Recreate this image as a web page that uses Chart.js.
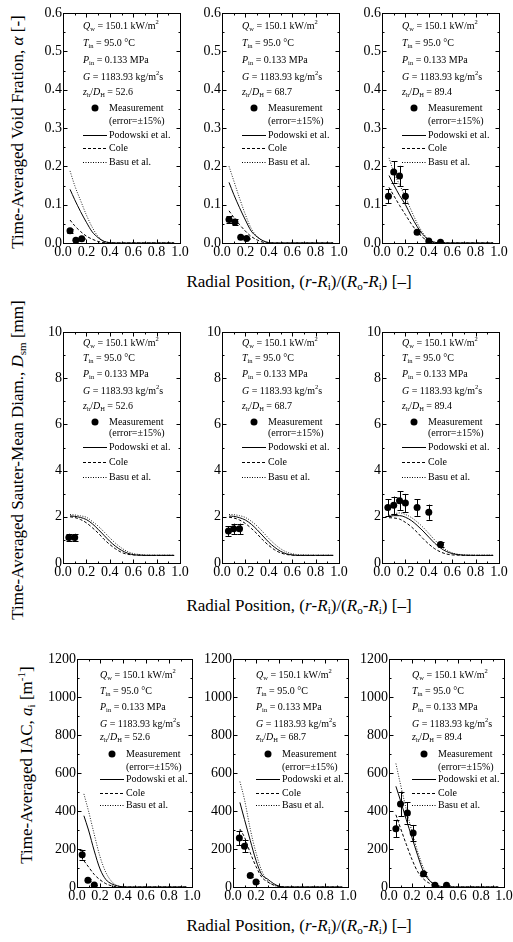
<!DOCTYPE html>
<html><head><meta charset="utf-8">
<script src="https://cdn.jsdelivr.net/npm/chart.js@4.4.1/dist/chart.umd.min.js"></script>
<style>
html,body{margin:0;padding:0;background:#fff;}
body{width:513px;height:942px;position:relative;overflow:hidden;font-family:"Liberation Serif","Times New Roman",serif;color:#000;}
canvas{position:absolute;}
.t{position:absolute;white-space:nowrap;font-size:17px;line-height:1;transform:translate(-50%,-50%);}
.r{transform:translate(-50%,-50%) rotate(-90deg);}
.t sub,.t sup{font-size:0.65em;line-height:0;}
.t sub{vertical-align:-0.3em;}
.t sup{vertical-align:0.6em;}
</style></head><body>
<div class="t r" style="left:17px;top:132px">Time-Averaged Void Fration, <i>α</i> [-]</div>
<div class="t r" style="left:17px;top:460px">Time-Averaged Sauter-Mean Diam., <i>D</i><sub>sm</sub> [mm]</div>
<div class="t r" style="left:26px;top:765px">Time-Averaged IAC, <i>a</i><sub>i</sub> [m<sup>-1</sup>]</div>
<div class="t" style="left:299px;top:281px">Radial Position, (<i>r</i>-<i>R</i><sub>i</sub>)/(<i>R</i><sub>o</sub>-<i>R</i><sub>i</sub>) [–]</div>
<div class="t" style="left:299px;top:605px">Radial Position, (<i>r</i>-<i>R</i><sub>i</sub>)/(<i>R</i><sub>o</sub>-<i>R</i><sub>i</sub>) [–]</div>
<div class="t" style="left:299px;top:925px">Radial Position, (<i>r</i>-<i>R</i><sub>i</sub>)/(<i>R</i><sub>o</sub>-<i>R</i><sub>i</sub>) [–]</div>
<script>
// ---------------- DATA ----------------
const X_TICKS = [0, 0.2, 0.4, 0.6, 0.8, 1.0];
const Y_TICKS_VF = [0, 0.1, 0.2, 0.3, 0.4, 0.5, 0.6];
const Y_TICKS_DSM = [0, 2, 4, 6, 8, 10];
const Y_TICKS_IAC = [0, 200, 400, 600, 800, 1000, 1200];
const Z_LABELS = ['52.6', '68.7', '89.4'];
const ERR = 0.15; // measurement error (±15%) as stated in legend

const CURVE_X = [0.06, 0.1, 0.15, 0.2, 0.25, 0.3, 0.35, 0.4, 0.45, 0.5, 0.55, 0.6, 0.65, 0.7, 0.8, 0.95];

// Void fraction
const VF_MX_526 = [0.06, 0.11, 0.16];
const VF_MY_526 = [0.032, 0.007, 0.011];
const VF_POD_526 = [0.14, 0.113, 0.082, 0.054, 0.029, 0.014, 0.004, 0.001, 0, 0, 0, 0, 0, 0, 0, 0];
const VF_COLE_526 = [0.06, 0.045, 0.03, 0.018, 0.01, 0.004, 0.001, 0, 0, 0, 0, 0, 0, 0, 0, 0];
const VF_BASU_526 = [0.188, 0.15, 0.111, 0.073, 0.041, 0.017, 0.005, 0.001, 0, 0, 0, 0, 0, 0, 0, 0];

const VF_MX_687 = [0.06, 0.11, 0.16, 0.21];
const VF_MY_687 = [0.061, 0.055, 0.015, 0.012];
const VF_POD_687 = [0.158, 0.127, 0.092, 0.06, 0.031, 0.016, 0.006, 0.001, 0, 0, 0, 0, 0, 0, 0, 0];
const VF_COLE_687 = [0.084, 0.067, 0.048, 0.031, 0.017, 0.008, 0.002, 0, 0, 0, 0, 0, 0, 0, 0, 0];
const VF_BASU_687 = [0.2, 0.163, 0.117, 0.074, 0.038, 0.017, 0.005, 0.001, 0, 0, 0, 0, 0, 0, 0, 0];

const VF_MX_894 = [0.055, 0.1, 0.15, 0.2, 0.3, 0.4, 0.5];
const VF_MY_894 = [0.122, 0.185, 0.175, 0.122, 0.028, 0.005, 0.002];
const VF_POD_894 = [0.176, 0.152, 0.124, 0.1, 0.07, 0.043, 0.022, 0.008, 0.002, 0, 0, 0, 0, 0, 0, 0];
const VF_COLE_894 = [0.145, 0.124, 0.098, 0.074, 0.05, 0.03, 0.014, 0.005, 0.001, 0, 0, 0, 0, 0, 0, 0];
const VF_BASU_894 = [0.222, 0.185, 0.152, 0.12, 0.085, 0.052, 0.026, 0.009, 0.002, 0, 0, 0, 0, 0, 0, 0];

// Sauter mean diameter
const DSM_MX_526 = [0.05, 0.1];
const DSM_MY_526 = [1.1, 1.1];
const DSM_POD_526 = [2.04, 2.02, 1.97, 1.88, 1.7, 1.46, 1.2, 0.94, 0.72, 0.55, 0.43, 0.36, 0.34, 0.33, 0.33, 0.33];
const DSM_COLE_526 = [2.0, 1.97, 1.88, 1.74, 1.53, 1.3, 1.03, 0.8, 0.61, 0.46, 0.38, 0.35, 0.34, 0.33, 0.33, 0.33];
const DSM_BASU_526 = [2.1, 2.08, 2.04, 1.98, 1.8, 1.6, 1.35, 1.09, 0.85, 0.65, 0.5, 0.41, 0.37, 0.35, 0.34, 0.34];

const DSM_MX_687 = [0.055, 0.1, 0.15];
const DSM_MY_687 = [1.38, 1.48, 1.48];
const DSM_POD_687 = [2.03, 2.02, 1.96, 1.86, 1.68, 1.44, 1.17, 0.9, 0.68, 0.51, 0.4, 0.35, 0.33, 0.33, 0.33, 0.33];
const DSM_COLE_687 = [1.98, 1.95, 1.86, 1.71, 1.5, 1.26, 0.99, 0.76, 0.57, 0.44, 0.37, 0.34, 0.33, 0.33, 0.33, 0.33];
const DSM_BASU_687 = [2.1, 2.09, 2.05, 1.97, 1.81, 1.6, 1.34, 1.06, 0.82, 0.62, 0.48, 0.4, 0.36, 0.35, 0.34, 0.34];

const DSM_MX_894 = [0.05, 0.1, 0.15, 0.2, 0.3, 0.4, 0.5];
const DSM_MY_894 = [2.4, 2.5, 2.7, 2.6, 2.4, 2.2, 0.8];
const DSM_POD_894 = [2.02, 2.05, 2.05, 1.98, 1.84, 1.63, 1.39, 1.12, 0.86, 0.65, 0.5, 0.41, 0.36, 0.34, 0.33, 0.33];
const DSM_COLE_894 = [1.96, 1.95, 1.9, 1.76, 1.57, 1.33, 1.06, 0.82, 0.62, 0.48, 0.39, 0.35, 0.34, 0.33, 0.33, 0.33];
const DSM_BASU_894 = [2.06, 2.12, 2.17, 2.1, 1.97, 1.78, 1.55, 1.28, 1.0, 0.76, 0.56, 0.44, 0.38, 0.35, 0.34, 0.34];

// Interfacial area concentration
const IAC_MX_526 = [0.045, 0.095, 0.15];
const IAC_MY_526 = [170, 35, 10];
const IAC_POD_526 = [375, 300, 190, 95, 40, 17, 6, 1, 0, 0, 0, 0, 0, 0, 0, 0];
const IAC_COLE_526 = [138, 106, 66, 38, 18, 6, 1, 0, 0, 0, 0, 0, 0, 0, 0, 0];
const IAC_BASU_526 = [490, 400, 277, 160, 78, 30, 7, 1, 0, 0, 0, 0, 0, 0, 0, 0];

const IAC_MX_687 = [0.055, 0.1, 0.15, 0.2];
const IAC_MY_687 = [258, 214, 60, 26];
const IAC_POD_687 = [445, 355, 245, 140, 65, 42, 19, 4, 0, 0, 0, 0, 0, 0, 0, 0];
const IAC_COLE_687 = [305, 262, 180, 108, 52, 27, 11, 4, 0, 0, 0, 0, 0, 0, 0, 0];
const IAC_BASU_687 = [555, 460, 305, 180, 85, 33, 11, 2, 0, 0, 0, 0, 0, 0, 0, 0];

const IAC_MX_894 = [0.06, 0.1, 0.16, 0.21, 0.3, 0.4, 0.5];
const IAC_MY_894 = [307, 437, 389, 284, 70, 9, 9];
const IAC_POD_894 = [530, 455, 355, 260, 165, 80, 35, 13, 3, 0, 0, 0, 0, 0, 0, 0];
const IAC_COLE_894 = [380, 310, 225, 145, 80, 42, 20, 7, 1, 0, 0, 0, 0, 0, 0, 0];
const IAC_BASU_894 = [650, 540, 410, 290, 185, 100, 40, 12, 2, 0, 0, 0, 0, 0, 0, 0];

// ---------------- LAYOUT ----------------
const FONT = "'Liberation Serif', serif";
const TICK_FS = 14;
Chart.defaults.font.family = FONT;
Chart.defaults.font.size = TICK_FS;
Chart.defaults.color = '#000';
const LW = 40, PT = 10, PR = 12, BH = 20;

const ROWS = [
  { top: 13, h: 230, lefts: [63, 222, 382], w: 117, ymax: 0.6, yticks: Y_TICKS_VF, fmt: v => v.toFixed(1),
    dys: [13, 30, 47, 64, 79, 95, 108, 122, 135, 149], tx: 20,
    panels: [
      [VF_MX_526, VF_MY_526, VF_POD_526, VF_COLE_526, VF_BASU_526],
      [VF_MX_687, VF_MY_687, VF_POD_687, VF_COLE_687, VF_BASU_687],
      [VF_MX_894, VF_MY_894, VF_POD_894, VF_COLE_894, VF_BASU_894]] },
  { top: 332, h: 231, lefts: [63, 222, 382], w: 117, ymax: 10, yticks: Y_TICKS_DSM, fmt: v => String(v),
    dys: [11, 26, 42, 59, 74, 90, 101, 115, 130, 145], tx: 20,
    panels: [
      [DSM_MX_526, DSM_MY_526, DSM_POD_526, DSM_COLE_526, DSM_BASU_526],
      [DSM_MX_687, DSM_MY_687, DSM_POD_687, DSM_COLE_687, DSM_BASU_687],
      [DSM_MX_894, DSM_MY_894, DSM_POD_894, DSM_COLE_894, DSM_BASU_894]] },
  { top: 659, h: 228, lefts: [77, 233, 389], w: 115, ymax: 1200, yticks: Y_TICKS_IAC, fmt: v => String(v),
    dys: [16, 32, 48, 65, 78, 95, 108, 120, 134, 146], tx: 23,
    panels: [
      [IAC_MX_526, IAC_MY_526, IAC_POD_526, IAC_COLE_526, IAC_BASU_526],
      [IAC_MX_687, IAC_MY_687, IAC_POD_687, IAC_COLE_687, IAC_BASU_687],
      [IAC_MX_894, IAC_MY_894, IAC_POD_894, IAC_COLE_894, IAC_BASU_894]] }
];

const DASH_COLE = [3, 2];
const DASH_BASU = [1, 1.5];

function pts(xs, ys) { return xs.map((x, i) => ({ x: x, y: ys[i] })); }

function rich(ctx, x, y, segs, fs) {
  let cx = x;
  for (const [t, s] of segs) {
    const small = s.includes('b') || s.includes('p');
    const size = small ? fs * 0.65 : fs;
    ctx.font = (s.includes('i') ? 'italic ' : '') + size + 'px ' + FONT;
    const dy = s.includes('b') ? fs * 0.32 : (s.includes('p') ? -fs * 0.35 : 0);
    ctx.fillText(t, cx, y + dy);
    cx += ctx.measureText(t).width;
  }
  return cx;
}

const panelPlugin = {
  id: 'panelDeco',
  afterDatasetsDraw(chart) {
    const ctx = chart.ctx, ys = chart.scales.y;
    const meta = chart.getDatasetMeta(0);
    const data = chart.data.datasets[0].data;
    ctx.save();
    ctx.strokeStyle = '#000'; ctx.lineWidth = 1;
    ctx.beginPath();
    meta.data.forEach((el, i) => {
      const v = data[i].y;
      const y1 = ys.getPixelForValue(v * (1 + ERR));
      const y2 = ys.getPixelForValue(v * (1 - ERR));
      const x = Math.round(el.x) + 0.5;
      ctx.moveTo(x, y1); ctx.lineTo(x, y2);
      ctx.moveTo(x - 3, Math.round(y1) + 0.5); ctx.lineTo(x + 3, Math.round(y1) + 0.5);
      ctx.moveTo(x - 3, Math.round(y2) + 0.5); ctx.lineTo(x + 3, Math.round(y2) + 0.5);
    });
    ctx.stroke();
    ctx.restore();
  },
  afterDraw(chart, args, opts) {
    const ctx = chart.ctx, a = chart.chartArea, xs = chart.scales.x, ys = chart.scales.y;
    ctx.save();
    ctx.strokeStyle = '#000'; ctx.lineWidth = 1;
    const L = Math.round(a.left) + 0.5, R = Math.round(a.right) + 0.5;
    const T = Math.round(a.top) + 0.5, B = Math.round(a.bottom) + 0.5;
    ctx.strokeRect(L, T, R - L, B - T);
    ctx.beginPath();
    for (let i = 0; i < X_TICKS.length; i++) {
      const px = Math.round(xs.getPixelForValue(X_TICKS[i])) + 0.5;
      ctx.moveTo(px, B); ctx.lineTo(px, B - 4);
      ctx.moveTo(px, T); ctx.lineTo(px, T + 4);
      if (i < X_TICKS.length - 1) {
        const m = Math.round(xs.getPixelForValue((X_TICKS[i] + X_TICKS[i + 1]) / 2)) + 0.5;
        ctx.moveTo(m, B); ctx.lineTo(m, B - 2);
        ctx.moveTo(m, T); ctx.lineTo(m, T + 2);
      }
    }
    const yt = opts.yticks;
    for (let i = 0; i < yt.length; i++) {
      const py = Math.round(ys.getPixelForValue(yt[i])) + 0.5;
      ctx.moveTo(L, py); ctx.lineTo(L + 4, py);
      ctx.moveTo(R, py); ctx.lineTo(R - 4, py);
      if (i < yt.length - 1) {
        const m = Math.round(ys.getPixelForValue((yt[i] + yt[i + 1]) / 2)) + 0.5;
        ctx.moveTo(L, m); ctx.lineTo(L + 2, m);
        ctx.moveTo(R, m); ctx.lineTo(R - 2, m);
      }
    }
    ctx.stroke();

    const fs = 10;
    const x0 = a.left + opts.tx;
    const d = opts.dys.map(v => a.top + v);
    ctx.fillStyle = '#000';
    ctx.textBaseline = 'middle';
    ctx.textAlign = 'left';
    rich(ctx, x0, d[0], [['Q', 'i'], ['w', 'b'], [' = 150.1 kW/m', ''], ['2', 'p']], fs);
    rich(ctx, x0, d[1], [['T', 'i'], ['in', 'b'], [' = 95.0 °C', '']], fs);
    rich(ctx, x0, d[2], [['P', 'i'], ['in', 'b'], [' = 0.133 MPa', '']], fs);
    rich(ctx, x0, d[3], [['G', 'i'], [' = 1183.93 kg/m', ''], ['2', 'p'], ['s', '']], fs);
    rich(ctx, x0, d[4], [['z', 'i'], ['h', 'b'], ['/', ''], ['D', 'i'], ['H', 'b'], [' = ' + opts.z, '']], fs);
    const lx = x0 + 26;
    ctx.beginPath(); ctx.arc(x0 + 12, d[5], 3.5, 0, Math.PI * 2); ctx.fill();
    rich(ctx, lx, d[5], [['Measurement', '']], fs);
    rich(ctx, lx, d[6], [['(error=±15%)', '']], fs);
    const styles = [[[], 'Podowski et al.'], [DASH_COLE, 'Cole'], [DASH_BASU, 'Basu et al.']];
    styles.forEach(([dash, lab], k) => {
      const yy = Math.round(d[7 + k]) + 0.5;
      ctx.setLineDash(dash);
      ctx.beginPath(); ctx.moveTo(x0, yy); ctx.lineTo(x0 + 24, yy); ctx.stroke();
      ctx.setLineDash([]);
      rich(ctx, lx, d[7 + k], [[lab, '']], fs);
    });
    ctx.restore();
  }
};

ROWS.forEach((row) => {
  row.panels.forEach((p, c) => {
    const [mx, my, pod, cole, basu] = p;
    const cv = document.createElement('canvas');
    const W = LW + row.w + PR, H = PT + row.h + BH;
    cv.width = W; cv.height = H;
    cv.style.left = (row.lefts[c] - LW) + 'px';
    cv.style.top = (row.top - PT) + 'px';
    cv.style.width = W + 'px'; cv.style.height = H + 'px';
    document.body.appendChild(cv);
    const lineDs = (lab, ys, dash, col) => ({
      label: lab, data: pts(CURVE_X, ys), borderColor: col, borderWidth: 1, borderDash: dash,
      pointRadius: 0, fill: false, cubicInterpolationMode: 'monotone'
    });
    new Chart(cv, {
      type: 'line',
      data: {
        datasets: [
          { label: 'Measurement', data: pts(mx, my), showLine: false, pointRadius: 3.5, pointStyle: 'circle',
            pointBackgroundColor: '#000', pointBorderColor: '#000', pointBorderWidth: 0 },
          lineDs('Podowski et al.', pod, [], '#000'),
          lineDs('Cole', cole, DASH_COLE, '#000'),
          lineDs('Basu et al.', basu, DASH_BASU, '#222')
        ]
      },
      options: {
        responsive: false, animation: false, devicePixelRatio: 1,
        layout: { padding: { top: PT, right: PR, left: 0, bottom: 0 } },
        plugins: {
          legend: { display: false }, tooltip: { enabled: false },
          panelDeco: { yticks: row.yticks, dys: row.dys, tx: row.tx, z: Z_LABELS[c] }
        },
        scales: {
          x: {
            type: 'linear', min: 0, max: 1,
            afterBuildTicks: s => { s.ticks = X_TICKS.map(v => ({ value: v })); },
            afterFit: s => { s.height = BH; },
            grid: { display: false, drawTicks: false }, border: { display: false },
            ticks: { font: { size: TICK_FS }, color: '#000', padding: 1, autoSkip: false, maxRotation: 0,
                     callback: v => Number(v).toFixed(1) }
          },
          y: {
            type: 'linear', min: 0, max: row.ymax,
            afterBuildTicks: s => { s.ticks = row.yticks.map(v => ({ value: v })); },
            afterFit: s => { s.width = LW; },
            grid: { display: false, drawTicks: false }, border: { display: false },
            ticks: { font: { size: TICK_FS }, color: '#000', padding: 1, autoSkip: false,
                     callback: v => row.fmt(v) }
          }
        }
      },
      plugins: [panelPlugin]
    });
  });
});
</script>
</body></html>
